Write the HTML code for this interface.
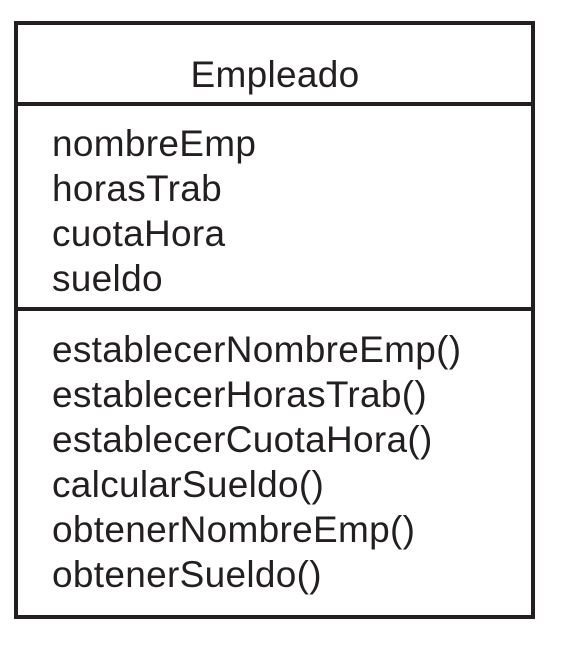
<!DOCTYPE html>
<html><head><style>
body{margin:0;width:577px;height:671px;background:#fff;position:relative;overflow:hidden;font-family:"Liberation Sans",Arial,sans-serif;color:#231f20}
.box{position:absolute;left:14px;top:21px;width:513px;height:590px;border:4px solid #231f20}
.hl{position:absolute;left:14px;width:521px;height:4px;background:#231f20}
.t{position:absolute;left:52px;font-size:37px;line-height:45px;letter-spacing:0.3px;white-space:pre}
</style></head><body>
<div class="box"></div>
<div class="hl" style="top:102px"></div>
<div class="hl" style="top:307px"></div>
<div class="t" style="left:0;width:550px;text-align:center;top:52px">Empleado</div>
<div class="t" style="top:121px">nombreEmp
horasTrab
cuotaHora
sueldo</div>
<div class="t" style="top:327px">establecerNombreEmp()
establecerHorasTrab()
establecerCuotaHora()
calcularSueldo()
obtenerNombreEmp()
obtenerSueldo()</div>
</body></html>
